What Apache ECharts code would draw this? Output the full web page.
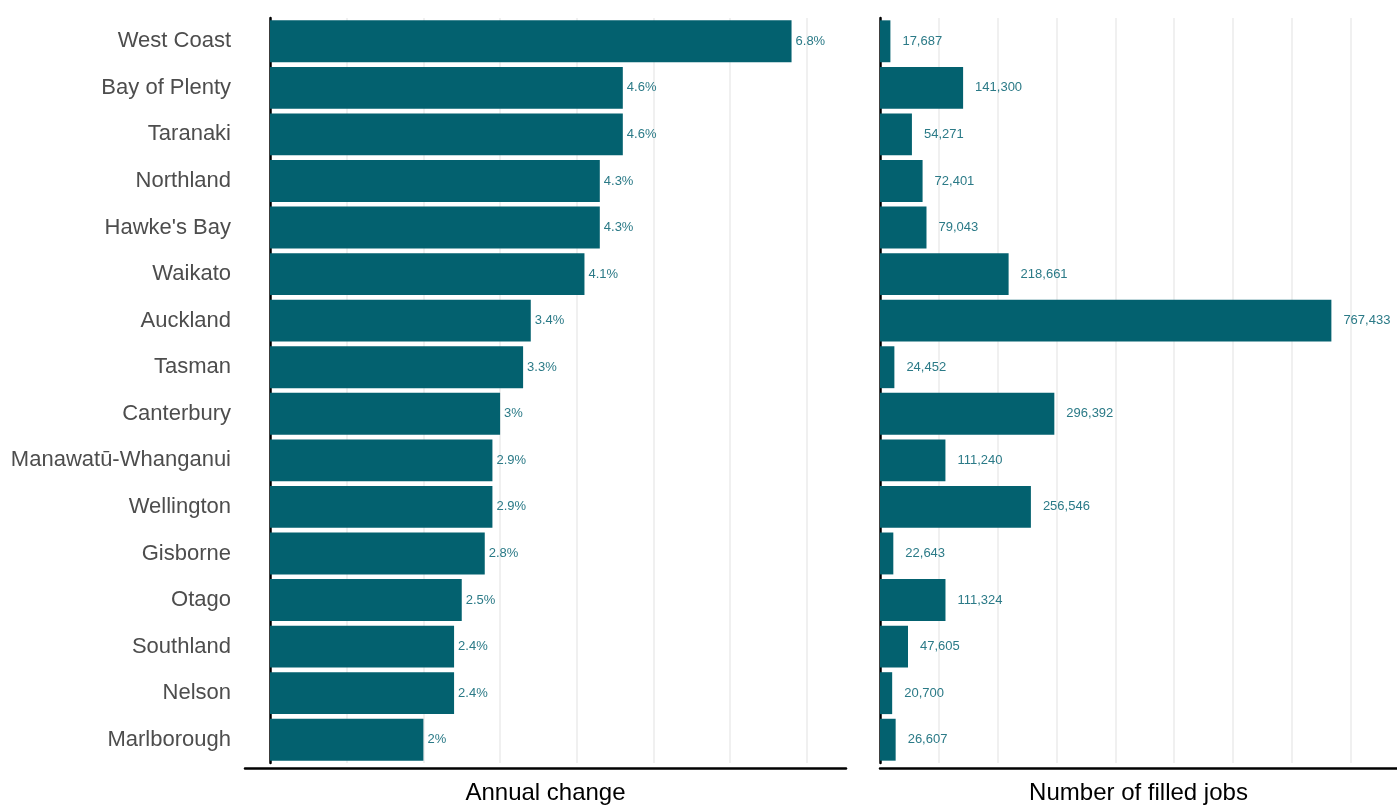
<!DOCTYPE html>
<html>
<head>
<meta charset="utf-8">
<script src="https://cdn.jsdelivr.net/npm/echarts@6/dist/echarts.min.js"></script>
<style>
html,body{margin:0;padding:0;background:#fff;}
#chart{width:1397px;height:805px;}
</style>
</head>
<body>
<div id="chart"></div>
<script>
const regions = ["West Coast","Bay of Plenty","Taranaki","Northland","Hawke's Bay","Waikato","Auckland","Tasman","Canterbury","Manawatū-Whanganui","Wellington","Gisborne","Otago","Southland","Nelson","Marlborough"];
const annualChange = [6.8,4.6,4.6,4.3,4.3,4.1,3.4,3.3,3,2.9,2.9,2.8,2.5,2.4,2.4,2];
const filledJobs = [17687,141300,54271,72401,79043,218661,767433,24452,296392,111240,256546,22643,111324,47605,20700,26607];

const BAR = '#03616f';
const LABEL = '#2b7a87';
const FONT = 'Liberation Sans, Arial, sans-serif';

const chart = echarts.init(document.getElementById('chart'), null, {renderer:'canvas'});
chart.setOption({
  animation:false,
  backgroundColor:'#fff',
  textStyle:{fontFamily:FONT},
  grid:[
    {left:245, right:551, top:18, bottom:42, containLabel:false, outerBoundsMode:'none'},
    {left:880, right:0, top:18, bottom:42, containLabel:false, outerBoundsMode:'none'}
  ],
  xAxis:[
    {gridIndex:0, type:'value', min:-0.326, max:7.51, splitNumber:8, offset:5,
     name:'Annual change', nameLocation:'middle', nameGap:13,
     nameTextStyle:{fontSize:24, color:'#000', fontFamily:FONT, verticalAlign:'top'},
     axisLine:{show:true, lineStyle:{color:'#000', width:2.5}},
     axisTick:{show:false}, axisLabel:{show:false},
     splitLine:{show:true, showMinLine:false, showMaxLine:false, lineStyle:{color:'#ebebeb', width:1.5}}},
    {gridIndex:1, type:'value', min:0, max:879000, interval:100000, offset:5,
     name:'Number of filled jobs', nameLocation:'middle', nameGap:13,
     nameTextStyle:{fontSize:24, color:'#000', fontFamily:FONT, verticalAlign:'top'},
     axisLine:{show:true, lineStyle:{color:'#000', width:2.5}},
     axisTick:{show:false}, axisLabel:{show:false},
     splitLine:{show:true, showMinLine:false, showMaxLine:false, lineStyle:{color:'#ebebeb', width:1.5}}}
  ],
  yAxis:[
    {gridIndex:0, type:'category', data:regions, inverse:true,
     axisLine:{show:true, onZero:true, lineStyle:{color:'#000', width:2.5}},
     axisTick:{show:false},
     axisLabel:{fontSize:22, color:'#4d4d4d', margin:14, fontFamily:FONT},
     splitLine:{show:false}},
    {gridIndex:1, type:'category', data:regions, inverse:true,
     axisLine:{show:true, onZero:true, lineStyle:{color:'#000', width:2.5}},
     axisTick:{show:false}, axisLabel:{show:false},
     splitLine:{show:false}}
  ],
  series:[
    {type:'bar', xAxisIndex:0, yAxisIndex:0, data:annualChange, barCategoryGap:'10%',
     itemStyle:{color:BAR},
     label:{show:true, position:'right', distance:4, fontSize:13, color:LABEL, fontFamily:FONT,
            formatter:p=>p.value+'%'}},
    {type:'bar', xAxisIndex:1, yAxisIndex:1, data:filledJobs, barCategoryGap:'10%',
     itemStyle:{color:BAR},
     label:{show:true, position:'right', distance:12, fontSize:13, color:LABEL, fontFamily:FONT,
            formatter:p=>p.value.toLocaleString('en-US')}}
  ]
});
</script>
</body>
</html>
